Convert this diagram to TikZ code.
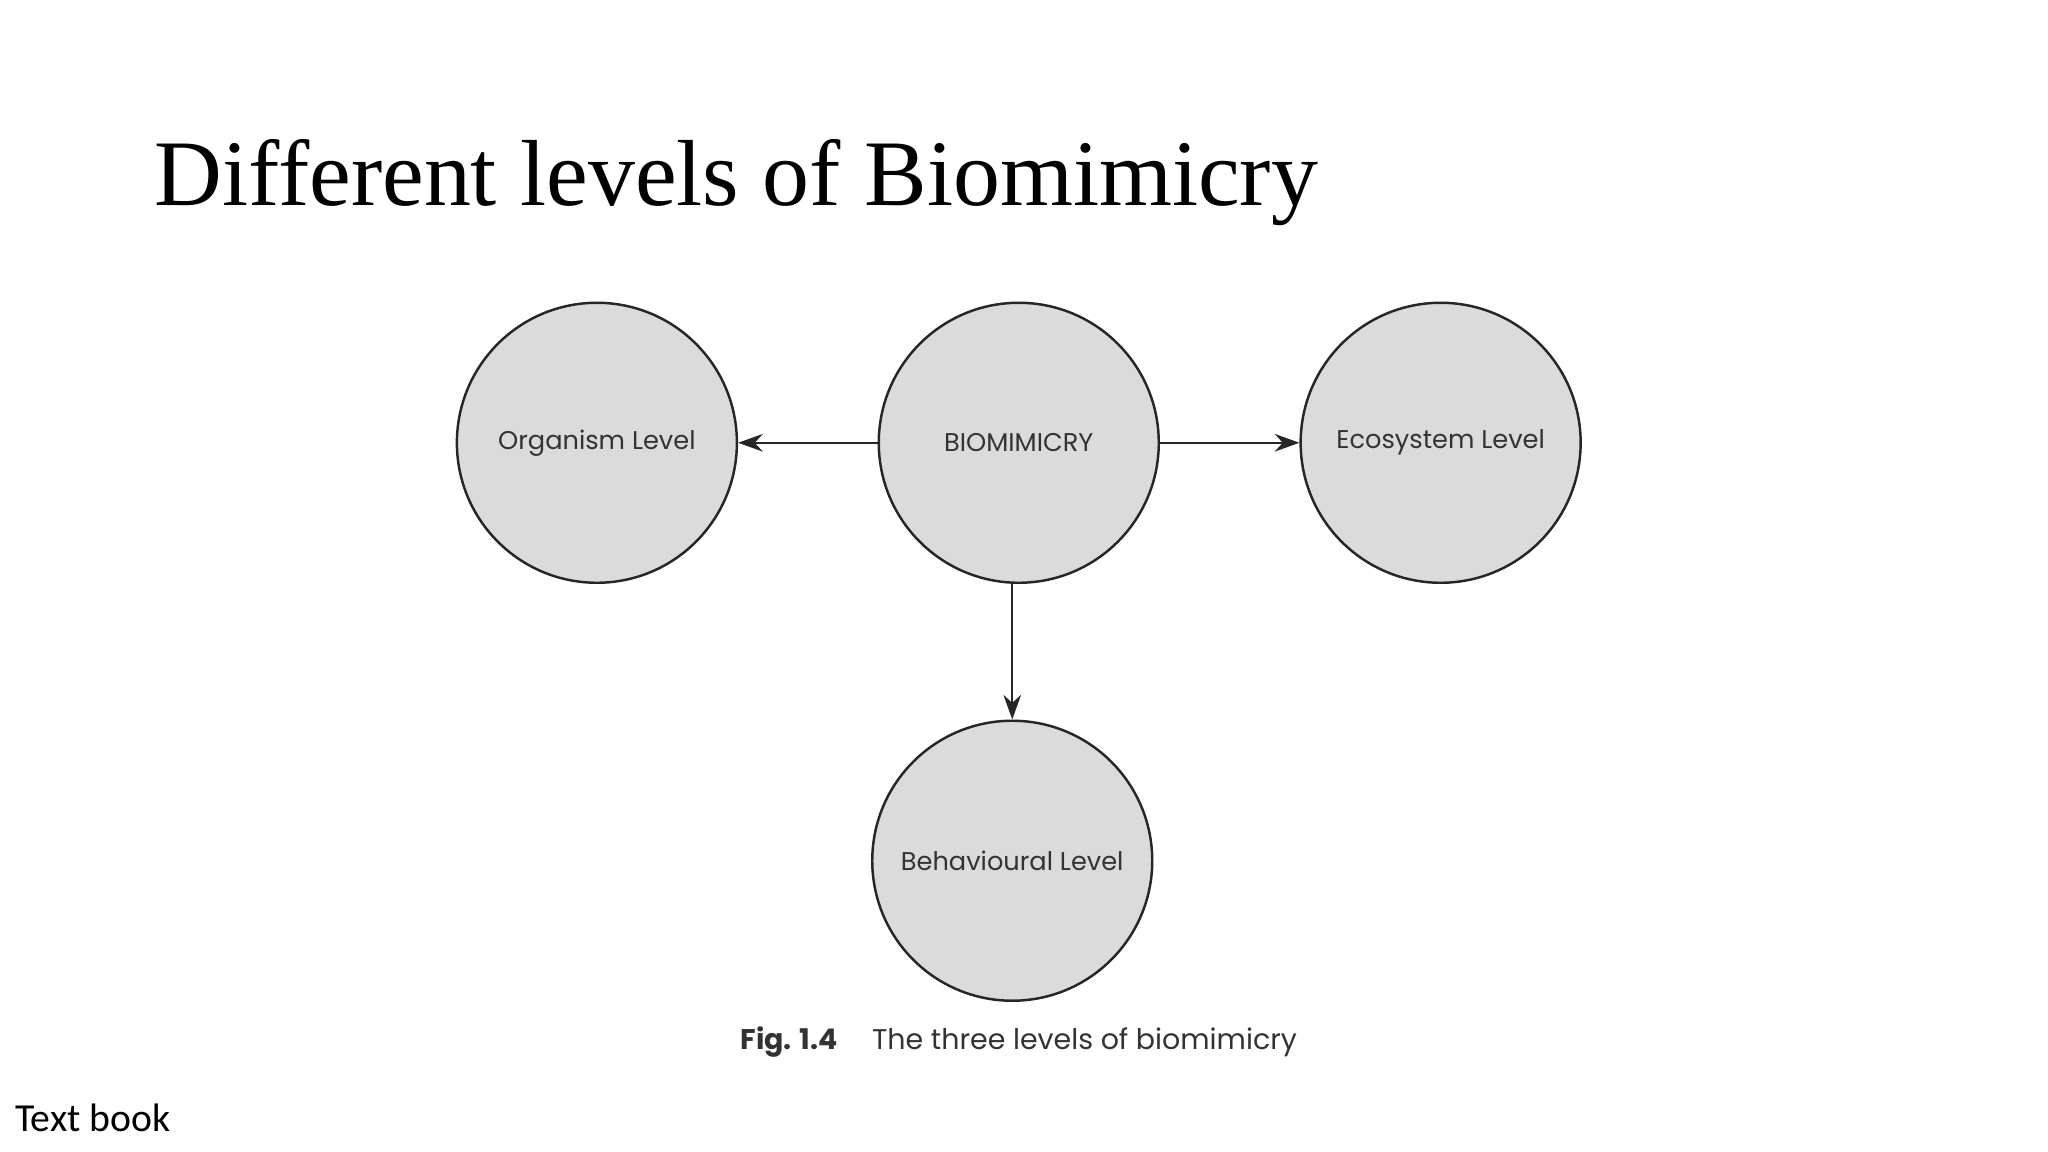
\documentclass[tikz,border=0pt]{standalone}
\usepackage{fontspec}
\setmainfont{Liberation Serif}
\newfontfamily\labfont{Poppins}
\newfontfamily\carfont{Carlito}
\usetikzlibrary{arrows.meta}
\begin{document}
\begin{tikzpicture}[x=0.01306cm,y=-0.01306cm,
  lev/.style={circle,draw=black!85,fill=black!14,line width=0.7pt,minimum size=2.8cm,inner sep=0pt,font=\labfont\fontsize{7.3}{9}\selectfont,text=black!80},
  arr/.style={-{Stealth[length=7pt,width=5pt]},line width=0.7pt,draw=black!85}]
\useasboundingbox (0,0) rectangle (1568,882);
\node[anchor=base west,font=\fontsize{26.7}{32}\selectfont,inner sep=0] (title) at (118,157) {Different levels of Biomimicry};
\node[lev] (org) at (457,339) {Organism Level};
\node[lev] (bio) at (780,339) {BIOMIMICRY};
\node[lev] (eco) at (1103,339) {Ecosystem Level};
\node[lev] (beh) at (775,659) {Behavioural Level};
\draw[arr] (bio) -- (org);
\draw[arr] (bio) -- (eco);
\draw[arr] (bio.south -| beh.north) -- (beh.north);
\node[font=\labfont\fontsize{8.1}{10}\selectfont,text=black!80] (cap) at (780,798) {\textbf{Fig. 1.4}\hspace{1.2em}The three levels of biomimicry};
\node[anchor=base west,font=\carfont\fontsize{11.3}{14}\selectfont,inner sep=0] (tb) at (11,866) {Text book};
\end{tikzpicture}
\end{document}
